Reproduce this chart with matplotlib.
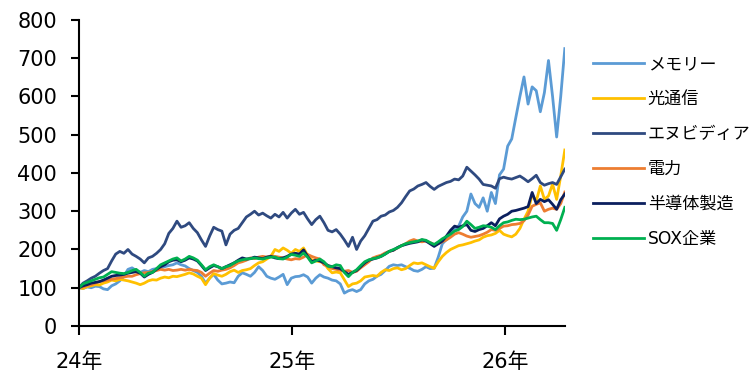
import pandas as pd
import matplotlib
matplotlib.use("Agg")
import matplotlib.pyplot as plt
import matplotlib.dates as mdates

plt.rcParams['font.family'] = ['DejaVu Sans', 'Noto Sans CJK JP']

# 週次データ（2024年1月～2026年4月、2024年初=100）
dates = pd.date_range('2024-01-01', periods=120, freq='W-MON')

memory = [100, 98, 102, 100, 104, 103, 97, 95, 105, 110,
          118, 130, 148, 152, 145, 140, 145, 142, 148, 150,
          152, 155, 158, 160, 165, 160, 157, 150, 145, 140,
          130, 112, 125, 135, 120, 110, 112, 115, 113, 130,
          139, 135, 130, 140, 155, 145, 130, 125, 122, 128,
          135, 108, 125, 129, 130, 134, 128, 112, 125, 134,
          128, 125, 120, 118, 110, 86, 92, 95, 90, 95,
          110, 118, 122, 130, 135, 145, 156, 160, 158, 160,
          155, 151, 145, 143, 148, 155, 150, 151, 180, 215,
          226, 244, 252, 261, 285, 300, 345, 320, 310, 335,
          300, 349, 320, 395, 410, 470, 489, 545, 600, 651,
          580, 625, 615, 560, 610, 694, 600, 494, 600, 725]

optical = [100, 98, 103, 105, 108, 107, 112, 115, 120, 118,
           122, 120, 118, 115, 112, 108, 112, 118, 121, 120,
           125, 128, 126, 130, 129, 132, 135, 139, 136, 130,
           125, 108, 125, 137, 133, 130, 135, 142, 146, 140,
           145, 147, 150, 158, 165, 168, 175, 182, 200, 195,
           204, 198, 190, 200, 195, 204, 185, 173, 170, 168,
           165, 150, 139, 141, 139, 121, 103, 110, 112, 118,
           128, 130, 132, 130, 140, 147, 145, 150, 152, 147,
           150, 158, 165, 163, 165, 160, 155, 151, 168, 182,
           192, 200, 205, 210, 212, 215, 218, 222, 225, 232,
           236, 238, 242, 250, 240, 236, 233, 240, 255, 279,
           300, 344, 326, 366, 331, 340, 371, 331, 392, 460]

nvidia = [100, 112, 118, 125, 130, 138, 145, 150, 170, 188,
          195, 190, 200, 188, 182, 175, 165, 178, 182, 190,
          200, 215, 242, 255, 274, 258, 262, 270, 255, 244,
          225, 208, 235, 258, 252, 248, 212, 240, 250, 255,
          270, 285, 292, 300, 290, 295, 288, 282, 292, 285,
          297, 282, 295, 305, 292, 297, 280, 265, 278, 287,
          270, 250, 246, 252, 240, 225, 208, 232, 200, 222,
          236, 255, 274, 278, 287, 290, 298, 302, 310, 322,
          338, 353, 358, 366, 370, 375, 365, 357, 365, 370,
          375, 378, 384, 382, 392, 415, 405, 395, 384, 370,
          368, 366, 360, 385, 389, 386, 384, 388, 392, 385,
          377, 385, 394, 375, 368, 372, 375, 370, 390, 410]

power = [100, 102, 106, 108, 112, 116, 118, 120, 122, 124,
         126, 128, 130, 130, 134, 137, 139, 140, 142, 145,
         148, 146, 148, 145, 146, 148, 146, 148, 146, 145,
         140, 130, 138, 145, 143, 146, 148, 152, 158, 165,
         168, 172, 178, 176, 180, 182, 180, 183, 182, 180,
         178, 175, 173, 176, 175, 180, 187, 182, 178, 175,
         160, 156, 150, 148, 146, 143, 145, 140, 143, 152,
         160, 168, 178, 182, 185, 191, 195, 198, 204, 210,
         215, 222, 226, 222, 220, 222, 218, 213, 215, 220,
         225, 232, 240, 244, 240, 235, 232, 234, 236, 240,
         245, 252, 250, 255, 261, 262, 265, 266, 268, 275,
         290, 313, 318, 322, 300, 305, 308, 305, 320, 350]

semi_equip = [100, 105, 108, 112, 114, 116, 120, 125, 130, 132,
              133, 135, 138, 140, 142, 138, 128, 135, 140, 148,
              155, 160, 168, 172, 173, 168, 172, 178, 175, 170,
              158, 145, 152, 158, 155, 150, 155, 160, 165, 172,
              178, 175, 176, 180, 178, 176, 180, 182, 178, 176,
              178, 182, 188, 190, 188, 199, 182, 168, 172, 170,
              165, 158, 155, 152, 150, 142, 135, 140, 145, 155,
              165, 172, 175, 178, 182, 188, 195, 198, 205, 210,
              213, 216, 218, 220, 225, 222, 215, 208, 215, 222,
              235, 250, 261, 258, 262, 265, 250, 247, 252, 255,
              262, 270, 262, 280, 287, 292, 300, 302, 305, 308,
              312, 349, 320, 331, 325, 330, 318, 305, 330, 345]

sox = [100, 110, 114, 118, 122, 126, 128, 135, 142, 140,
       138, 137, 140, 145, 148, 140, 130, 138, 140, 150,
       160, 165, 170, 175, 178, 170, 175, 182, 178, 172,
       160, 147, 155, 160, 155, 150, 155, 158, 165, 170,
       173, 175, 176, 178, 176, 175, 178, 180, 180, 176,
       175, 180, 187, 185, 182, 191, 180, 165, 170, 175,
       168, 156, 155, 160, 158, 140, 129, 140, 147, 158,
       168, 173, 176, 178, 182, 188, 195, 200, 204, 210,
       215, 218, 220, 222, 226, 224, 218, 213, 220, 228,
       234, 240, 248, 252, 260, 274, 265, 255, 258, 262,
       261, 258, 252, 262, 270, 272, 276, 279, 278, 279,
       282, 285, 287, 278, 270, 270, 268, 250, 278, 310]

labels = ['メモリー', '光通信', 'エヌビディア', '電力', '半導体製造', 'SOX企業']
colors = ['#5B9BD5', '#FFC000', '#2F4A80', '#ED7D31', '#0B1F5E', '#00B050']
series = [memory, optical, nvidia, power, semi_equip, sox]

fig = plt.figure(figsize=(7.55, 3.76), dpi=100)
ax = fig.add_axes([0.1046, 0.133, 0.6435, 0.814])

for vals, lab, col in zip(series, labels, colors):
    ax.plot(dates, vals, color=col, lw=2.0, label=lab)

ax.set_ylim(0, 800)
ax.set_yticks(range(0, 801, 100))
ax.set_xlim(dates[0], dates[-1])
ax.set_xticks(pd.to_datetime(['2024-01-01', '2025-01-01', '2026-01-01']))
ax.xaxis.set_major_formatter(mdates.DateFormatter('%y年'))

for s in ['top', 'right']:
    ax.spines[s].set_visible(False)
for s in ['left', 'bottom']:
    ax.spines[s].set_linewidth(1.5)
    ax.spines[s].set_color('black')

ax.tick_params(axis='y', direction='out', length=5.8, width=1.5, pad=10, labelsize=15)
ax.tick_params(axis='x', direction='out', length=6.5, width=1.5, pad=12, labelsize=15)

ax.legend(loc='upper left', bbox_to_anchor=(1.058, 0.885), frameon=False,
          fontsize=12.3, handlelength=3.0, handletextpad=0.2, labelspacing=0.99,
          borderaxespad=0, borderpad=0)

fig.savefig('out.png', dpi=100)
